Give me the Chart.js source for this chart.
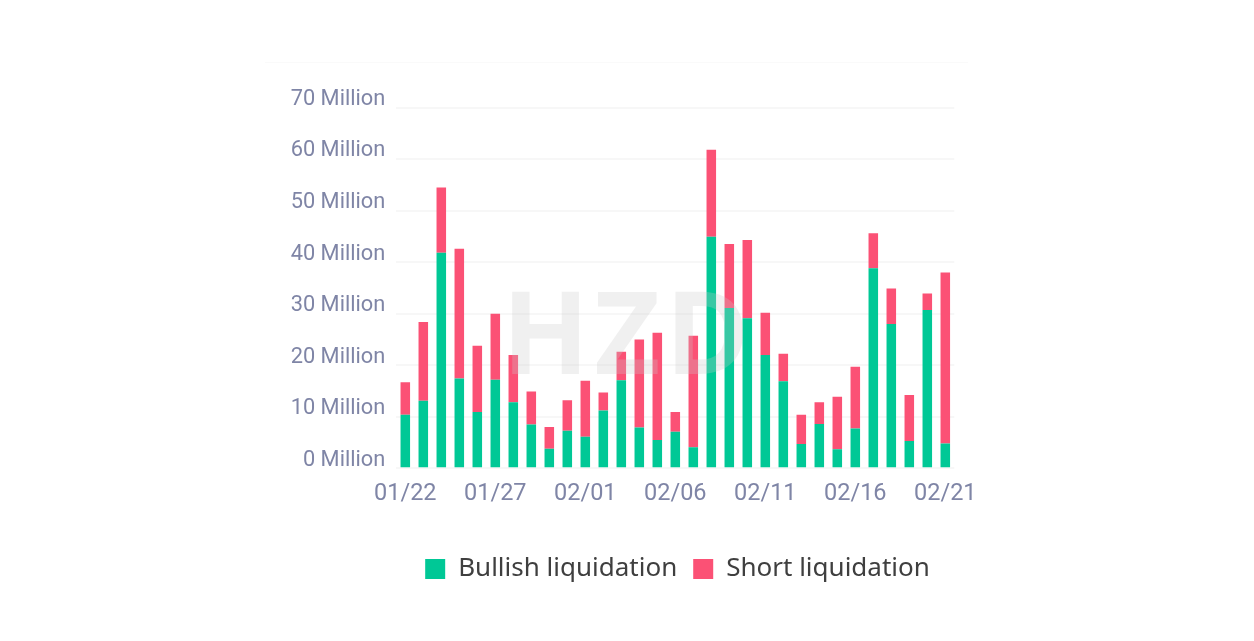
<!DOCTYPE html>
<html>
<head>
<meta charset="utf-8">
<script src="https://cdn.jsdelivr.net/npm/chart.js@4/dist/chart.umd.min.js"></script>
<style>
  html, body { margin: 0; padding: 0; background: #fff; overflow: hidden; }
  #wrap { position: relative; width: 1254px; height: 641px; }
  #liqChart { position: absolute; left: 260px; top: 0; }
  #topLine { position: absolute; left: 265px; top: 62px; width: 703px; height: 1px; background: #fafafa; }
  #mark { position: absolute; left: 502px; top: 252px; font: 700 114px "Open Sans", sans-serif; letter-spacing: 5px;
          color: rgba(200, 200, 200, 0.28); pointer-events: none; }
</style>
</head>
<body>
<div id="wrap">
  <div id="topLine"></div>
  <canvas id="liqChart" width="835" height="641"></canvas>
  <div id="mark">HZD</div>
</div>
<script>
// dias do periodo
const categories = ['01/22','01/23','01/24','01/25','01/26','01/27','01/28','01/29','01/30','01/31',
  '02/01','02/02','02/03','02/04','02/05','02/06','02/07','02/08','02/09','02/10',
  '02/11','02/12','02/13','02/14','02/15','02/16','02/17','02/18','02/19','02/20','02/21'];

// valores em milhoes
const bullishValues = [10.4,13.1,41.8,17.4,10.9,17.2,12.8,8.5,3.8,7.3,6.1,11.2,17.1,7.9,5.5,7.1,
  4.1,44.9,31.1,29.1,22.0,16.9,4.7,8.6,3.7,7.7,38.8,28.0,5.3,30.7,4.8];
const shortValues = [6.3,15.3,12.7,25.2,12.9,12.8,9.2,6.4,4.2,5.9,10.9,3.5,5.5,17.1,20.8,3.8,
  21.6,16.9,12.4,15.2,8.2,5.3,5.7,4.2,10.2,12.0,6.8,6.9,8.9,3.2,33.2];

const yTickLabels = ['0 Million','10 Million','20 Million','30 Million','40 Million','50 Million','60 Million','70 Million'];

const tickColor = '#7f85a6';

new Chart(document.getElementById('liqChart').getContext('2d'), {
  type: 'bar',
  data: {
    labels: categories,
    datasets: [
      { label: 'Bullish liquidation', data: bullishValues, backgroundColor: '#00c896' },
      { label: 'Short liquidation', data: shortValues, backgroundColor: '#fb5175' }
    ]
  },
  options: {
    responsive: false,
    animation: false,
    layout: { padding: { top: 107.5, right: 0, bottom: 49, left: 0 } },
    datasets: { bar: { barPercentage: 0.53, categoryPercentage: 1 } },
    plugins: {
      tooltip: { enabled: false },
      legend: {
        position: 'bottom',
        labels: {
          boxWidth: 20, boxHeight: 20, padding: 16, color: '#3f3f3f',
          font: { family: 'Noto Sans', size: 26 }
        }
      }
    },
    scales: {
      x: {
        stacked: true,
        afterFit: scale => { scale.height = 71.7; },
        grid: { display: false },
        border: { display: false },
        ticks: {
          color: tickColor, font: { family: 'Roboto', size: 23.5, weight: '400' },
          autoSkip: false, maxRotation: 0, padding: 4,
          callback: (value, i) => i % 5 === 0 ? categories[i] : ''
        }
      },
      y: {
        stacked: true,
        min: 0, max: 70,
        afterFit: scale => { scale.width = 136.3; },
        grid: { color: '#f7f7f7', lineWidth: 2, drawTicks: false },
        border: { display: false },
        ticks: {
          stepSize: 10, color: tickColor, font: { family: 'Roboto', size: 21.8, weight: '400' },
          padding: 11, labelOffset: -8,
          callback: (value, i) => yTickLabels[i]
        }
      },
      // so reserva a margem direita para o legend ficar centrado como no original
      rightGap: {
        type: 'linear',
        position: 'right',
        afterFit: scale => { scale.width = 140.7; },
        grid: { display: false },
        border: { display: false },
        ticks: { display: false }
      }
    }
  }
});
</script>
</body>
</html>
